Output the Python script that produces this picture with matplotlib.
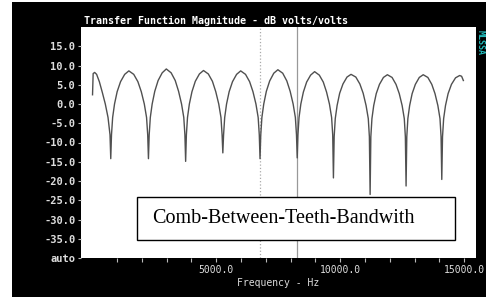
import matplotlib
matplotlib.use('Agg')
import matplotlib.pyplot as plt
from matplotlib.patches import Rectangle

# magnitude curve (Hz, dB)
freq = [15, 40, 100, 180, 290, 410, 530, 640, 720, 750,
        780, 826, 902, 1008, 1145, 1312, 1480, 1677, 1844, 1981, 2103, 2194, 2240, 2270,
        2300, 2345, 2420, 2525, 2660, 2825, 2990, 3185, 3350, 3485, 3605, 3695, 3740, 3770,
        3800, 3845, 3920, 4025, 4160, 4325, 4490, 4685, 4850, 4985, 5105, 5195, 5240, 5270,
        5300, 5345, 5420, 5525, 5660, 5825, 5990, 6185, 6350, 6485, 6605, 6695, 6740, 6770,
        6800, 6845, 6920, 7025, 7160, 7325, 7490, 7685, 7850, 7985, 8105, 8195, 8240, 8270,
        8299, 8343, 8416, 8518, 8650, 8810, 8971, 9161, 9321, 9453, 9569, 9657, 9701, 9730,
        9760, 9804, 9878, 9982, 10115, 10278, 10440, 10633, 10796, 10929, 11047, 11136, 11180, 11210,
        11239, 11283, 11355, 11457, 11587, 11747, 11906, 12095, 12254, 12385, 12501, 12588, 12631, 12660,
        12689, 12732, 12804, 12905, 13034, 13193, 13351, 13538, 13697, 13826, 13942, 14028, 14071, 14100,
        14130, 14175, 14250, 14355, 14490, 14655, 14820, 14900, 14970]
mag = [2.4, 7.9, 8.2, 7.7, 5.8, 3.0, 0.0, -3.5, -8.0, -14.2,
       -8.0, -3.5, 0.0, 3.2, 5.8, 7.7, 8.6, 7.7, 5.8, 3.2, 0.0, -3.5, -8.0, -14.2,
       -8.0, -3.5, 0.0, 3.3, 6.1, 8.1, 9.1, 8.1, 6.1, 3.3, 0.0, -3.5, -8.0, -14.9,
       -8.0, -3.5, 0.0, 3.2, 5.9, 7.8, 8.7, 7.8, 5.9, 3.2, 0.0, -3.5, -8.0, -12.7,
       -8.0, -3.5, 0.0, 3.2, 5.8, 7.7, 8.6, 7.7, 5.8, 3.2, 0.0, -3.5, -8.0, -14.2,
       -8.0, -3.5, 0.0, 3.3, 6.0, 8.0, 8.9, 8.0, 6.0, 3.3, 0.0, -3.5, -8.0, -14.0,
       -8.0, -3.5, 0.0, 3.1, 5.7, 7.5, 8.4, 7.5, 5.7, 3.1, 0.0, -3.5, -8.0, -19.2,
       -8.5, -3.8, -0.4, 2.8, 5.2, 7.0, 7.7, 7.0, 5.2, 2.8, -0.4, -3.8, -8.5, -23.5,
       -8.5, -3.8, -0.4, 2.7, 5.1, 6.9, 7.6, 6.9, 5.1, 2.7, -0.4, -3.8, -8.5, -21.3,
       -8.5, -3.8, -0.4, 2.7, 5.1, 6.9, 7.6, 6.9, 5.1, 2.7, -0.4, -3.8, -8.5, -19.6,
       -8.5, -3.8, -0.4, 2.7, 5.1, 6.8, 7.4, 7.2, 6.1]

cursor_dotted = 6770
cursor_solid = 8270

yticks = [-40, -35, -30, -25, -20, -15, -10, -5, 0, 5, 10, 15]
ylabels = ['auto', '-35.0', '-30.0', '-25.0', '-20.0', '-15.0', '-10.0',
           '-5.0', '0.0', '5.0', '10.0', '15.0']
xticks = list(range(1000, 15001, 1000))
xlabels = ['5000.0' if t == 5000 else '10000.0' if t == 10000 else
           '15000.0' if t == 15000 else '' for t in xticks]

W, H = 486, 297
fig = plt.figure(figsize=(W / 100, H / 100), dpi=100, facecolor='black')
# white strip on the left and top edge of the screenshot
fig.patches.append(Rectangle((0, 0), 12 / W, 1, transform=fig.transFigure,
                             facecolor='white', edgecolor='none'))
fig.patches.append(Rectangle((0, 1 - 2 / H), 1, 2 / H, transform=fig.transFigure,
                             facecolor='white', edgecolor='none'))

ax = fig.add_axes([81 / W, 1 - 258 / H, 395 / W, 231 / H])
ax.set_facecolor('white')
ax.plot(freq, mag, color='#505050', lw=1.0, zorder=3)
ax.axvline(cursor_dotted, color='#aaaaaa', lw=0.9, ls=':', zorder=2)
ax.axvline(cursor_solid, color='#999999', lw=0.9, zorder=2)

ax.set_xlim(-450, 15480)
ax.set_ylim(-40, 20)
for s in ax.spines.values():
    s.set_visible(False)

mono = 'DejaVu Sans Mono'
ax.set_xticks(xticks)
ax.set_xticklabels(xlabels, family=mono, fontsize=7, color='#dddddd')
ax.set_yticks(yticks)
ax.set_yticklabels(ylabels, family=mono, fontsize=7.5, color='#dddddd',
                   fontweight='bold')
ax.tick_params(axis='x', direction='out', length=3, color='#bbbbbb', pad=2)
ax.tick_params(axis='y', direction='out', length=2, color='#bbbbbb', pad=2)
ax.set_xlabel('Frequency - Hz', family=mono, fontsize=7, color='#dddddd',
              labelpad=2)

fig.text(84 / W, 1 - 20.7 / H, 'Transfer Function Magnitude - dB volts/volts',
         family=mono, fontsize=7.2, fontweight='bold', color='white',
         va='center', ha='left')
fig.text(480.5 / W, 1 - 42 / H, 'MLSSA', family=mono, fontsize=6,
         fontweight='bold', color='#22bbbb', rotation=-90,
         va='center', ha='center')

ax.add_patch(Rectangle((0.141, 0.078), 0.806, 0.187, transform=ax.transAxes,
                       facecolor='white', edgecolor='black', lw=1, zorder=5))
ax.text(0.179, 0.171, 'Comb-Between-Teeth-Bandwith', transform=ax.transAxes,
        family='Liberation Serif', fontsize=14.5, color='black',
        va='center', ha='left', zorder=6)

fig.savefig('out.png', dpi=100, facecolor=fig.get_facecolor())
